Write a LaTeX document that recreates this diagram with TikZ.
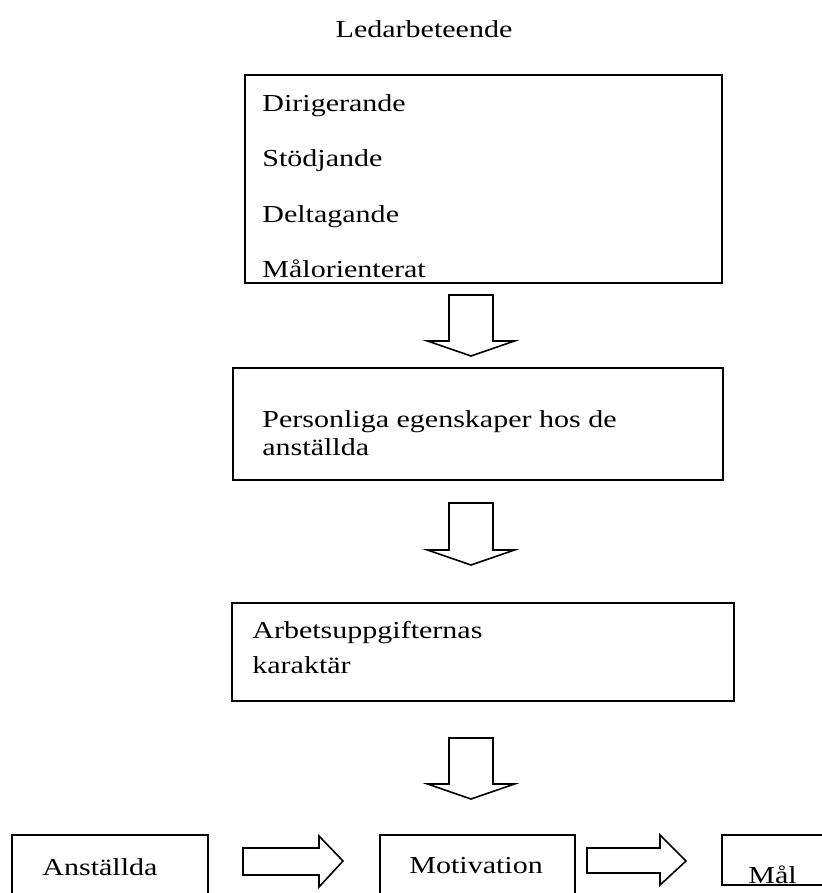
\documentclass[tikz,border=0pt]{standalone}
\usepackage{fontspec}
\setmainfont{Liberation Serif}[FakeStretch=1.23]
\tikzset{
	box/.style = {draw, line width=1pt},
	lbl/.style = {anchor=base west, inner sep=0pt, font=\fontsize{12.2}{14}\selectfont},
	blockarrow/.style = {draw, line width=0.8pt, line join=miter, fill=white}
}
\begin{document}
\begin{tikzpicture}[x=0.5pt, y=-0.5pt]
	\useasboundingbox (0,0) rectangle (822,893);
	\clip (0,0) rectangle (822,893);
	\node [lbl, anchor=base] (title) at (424,38) {Ledarbeteende};
	% boxes
	\draw [box] (245,75) rectangle (722,283);
	\draw [box] (233,368) rectangle (723,480);
	\draw [box] (232,603) rectangle (734,701);
	\draw [box] (12,835) rectangle (208,910);
	\draw [box] (380,835) rectangle (575,910);
	\draw [box] (722,835) rectangle (840,885);
	% texts
	\node [lbl] (dir) at (262,112) {Dirigerande};
	\node [lbl] (sto) at (262,167) {Stödjande};
	\node [lbl] (del) at (262,222) {Deltagande};
	\node [lbl] (mor) at (262,277) {Målorienterat};
	\node [lbl] (pers) at (262,427) {Personliga egenskaper hos de};
	\node [lbl] (anst) at (262,455) {anställda};
	\node [lbl] (arb) at (252,638) {Arbetsuppgifternas};
	\node [lbl] (kar) at (252,673) {karaktär};
	\node [lbl] (emp) at (42,875) {Anställda};
	\node [lbl] (mot) at (409,873) {Motivation};
	\node [lbl] (mal) at (748,883) {Mål};
	% down arrows
	\draw [blockarrow, shift={(471,295)}] (-22,0) -- (22,0) -- (22,46) -- (43.5,46) -- (0,61) -- (-43.5,46) -- (-22,46) -- cycle;
	\draw [blockarrow, shift={(471,503)}] (-22,0) -- (22,0) -- (22,47) -- (43.5,47) -- (0,62) -- (-43.5,47) -- (-22,47) -- cycle;
	\draw [blockarrow, shift={(471,738)}] (-22,0) -- (22,0) -- (22,46) -- (43.5,46) -- (0,61) -- (-43.5,46) -- (-22,46) -- cycle;
	% right arrows
	\draw [blockarrow, shift={(243,861)}] (0,-13) -- (76,-13) -- (76,-25) -- (100,0) -- (76,26) -- (76,14) -- (0,14) -- cycle;
	\draw [blockarrow, shift={(587,861)}] (0,-13) -- (73,-13) -- (73,-26) -- (99,0) -- (73,24) -- (73,12) -- (0,12) -- cycle;
\end{tikzpicture}
\end{document}
